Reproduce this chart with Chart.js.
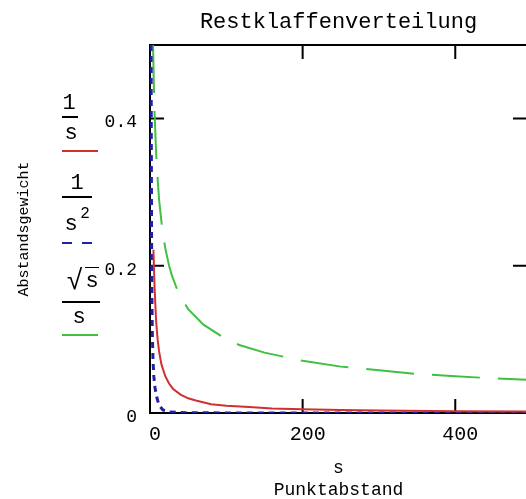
<!DOCTYPE html>
<html>
<head>
<meta charset="utf-8">
<script src="https://cdn.jsdelivr.net/npm/chart.js@4.4.1/dist/chart.umd.min.js"></script>
<style>
  html, body { margin: 0; padding: 0; background: #fff; overflow: hidden; }
  #wrap { position: relative; width: 526px; height: 499px; overflow: hidden; }
  #plot { position: absolute; left: 0; top: 0; }
  .t { position: absolute; transform: translate(-50%, -50%); font-family: "Liberation Mono", monospace; font-size: 22px; line-height: 1; color: #000; white-space: nowrap; }
  .r { position: absolute; height: 2px; background: #000; }
</style>
</head>
<body>
<div id="wrap">
  <canvas id="plot" width="540" height="501"></canvas>

  <!-- legend: 1/s -->
  <div class="t" style="left:69px; top:104px;">1</div>
  <div class="r" style="left:62px; top:116px; width:16px;"></div>
  <div class="t" style="left:71px; top:134px;">s</div>
  <div class="r" style="left:62px; top:150px; width:36px; background:#d03030;"></div>

  <!-- legend: 1/s^2 -->
  <div class="t" style="left:77px; top:184px;">1</div>
  <div class="r" style="left:62px; top:196px; width:30px;"></div>
  <div class="t" style="left:71px; top:225px;">s</div>
  <div class="t" style="left:85px; top:214px; font-size:16px;">2</div>
  <div class="r" style="left:62px; top:242px; width:10px; background:#2020a0;"></div>
  <div class="r" style="left:82px; top:242px; width:10px; background:#2020a0;"></div>

  <!-- legend: sqrt(s)/s -->
  <div class="t" style="left:75px; top:282px; font-size:28px;">√</div>
  <div class="r" style="left:85px; top:267px; width:14px; height:1px;"></div>
  <div class="t" style="left:92px; top:282px;">s</div>
  <div class="r" style="left:62px; top:301px; width:38px;"></div>
  <div class="t" style="left:79px; top:318px;">s</div>
  <div class="r" style="left:62px; top:334px; width:36px; background:#40c040;"></div>
</div>

<script>
// ================= DATA =================
const xTicks = [0, 200, 400];
const yTicks = [0, 0.2, 0.4];

// 1/s  (red, solid)
const redS = [4.5, 6, 8, 10, 12, 15, 20, 25, 30, 40, 50, 60, 80, 100, 130, 160, 200, 250, 300, 400, 500];
const redV = [0.222, 0.17, 0.125, 0.1, 0.083, 0.066, 0.05, 0.04, 0.033, 0.025, 0.02, 0.017, 0.012, 0.01, 0.008, 0.006, 0.005, 0.004, 0.0033, 0.0025, 0.002];

// 1/s^2  (blue, short dashes)
const blueS = [1.4, 2, 2.5, 3, 4, 5, 6.5, 8, 10, 13, 17, 25, 50, 100, 500];
const blueV = [0.5, 0.25, 0.16, 0.11, 0.07, 0.05, 0.035, 0.025, 0.017, 0.009, 0.004, 0.0015, 0.0004, 0.0001, 0];

// sqrt(s)/s  (green, long dashes)
const greenS = [4, 5, 6, 8, 9, 12, 16, 20, 25, 29, 37, 50, 70, 100, 118, 150, 200, 250, 300, 350, 400, 450, 500];
const greenV = [0.5, 0.447, 0.408, 0.354, 0.333, 0.289, 0.25, 0.224, 0.2, 0.186, 0.164, 0.141, 0.12, 0.1, 0.092, 0.082, 0.071, 0.063, 0.058, 0.053, 0.05, 0.047, 0.045];

const RED = "#d03030";
const BLUE = "#2020a0";
const GREEN = "#40c040";
const FONT = "Liberation Mono";

const toPoints = (xs, ys) => xs.map((x, i) => ({ x, y: ys[i] }));

// ================= FRAME + INNER TICKS =================
const frame = {
    id: "frame",
    beforeDatasetsDraw(chart) {
        const { ctx, chartArea: a, scales: { x, y } } = chart;
        ctx.save();
        ctx.strokeStyle = "#000";
        ctx.lineWidth = 2;
        ctx.strokeRect(a.left, a.top, a.right - a.left, a.bottom - a.top);
        ctx.beginPath();
        xTicks.forEach(v => {
            if (v === 0) return;
            const px = x.getPixelForValue(v);
            ctx.moveTo(px, a.bottom); ctx.lineTo(px, a.bottom - 14);
            ctx.moveTo(px, a.top); ctx.lineTo(px, a.top + 14);
        });
        yTicks.forEach(v => {
            if (v === 0) return;
            const py = y.getPixelForValue(v);
            ctx.moveTo(a.left, py); ctx.lineTo(a.left + 14, py);
            ctx.moveTo(a.right, py); ctx.lineTo(a.right - 14, py);
        });
        ctx.stroke();
        ctx.restore();
    }
};

// ================= CHART =================
new Chart(document.getElementById("plot"), {
    type: "line",
    data: {
        datasets: [
            { label: "1/s", data: toPoints(redS, redV), borderColor: RED, borderWidth: 2, pointRadius: 0 },
            { label: "1/s²", data: toPoints(blueS, blueV), borderColor: BLUE, borderWidth: 3, borderDash: [6, 5], pointRadius: 0 },
            { label: "√s/s", data: toPoints(greenS, greenV), borderColor: GREEN, borderWidth: 2, borderDash: [48, 18], pointRadius: 0 }
        ]
    },
    options: {
        responsive: false,
        animation: false,
        layout: { padding: { left: 0, right: 13, top: 0, bottom: 0 } },
        plugins: {
            legend: { display: false },
            tooltip: { enabled: false },
            title: {
                display: true,
                text: "Restklaffenverteilung",
                fullSize: false,
                color: "#000",
                font: { family: FONT, size: 22, weight: "normal", lineHeight: 1.2 },
                padding: { top: 9, bottom: 9.6 }
            }
        },
        scales: {
            x: {
                type: "linear",
                min: 0,
                max: 494,
                grid: { display: false, drawTicks: false },
                border: { display: false },
                afterBuildTicks: s => { s.ticks = xTicks.map(v => ({ value: v })); },
                ticks: { padding: 10, labelOffset: 5, maxRotation: 0, color: "#000", font: { family: FONT, size: 20 } },
                title: {
                    display: true,
                    text: ["s", "Punktabstand"],
                    color: "#000",
                    font: { family: FONT, size: 18, lineHeight: 1.2 },
                    padding: { top: 0, bottom: 0 }
                },
                afterFit: s => { s.height = 88; }
            },
            y: {
                min: 0,
                max: 0.5,
                grid: { display: false, drawTicks: false },
                border: { display: false },
                afterBuildTicks: s => { s.ticks = yTicks.map(v => ({ value: v })); },
                ticks: { padding: 13, labelOffset: 4, color: "#000", font: { family: FONT, size: 18 } },
                title: {
                    display: true,
                    text: "Abstandsgewicht",
                    color: "#000",
                    font: { family: FONT, size: 15, lineHeight: 1.2 },
                    padding: { top: 15, bottom: 0 }
                },
                afterFit: s => { s.width = 150; }
            }
        }
    },
    plugins: [frame]
});
</script>
</body>
</html>
